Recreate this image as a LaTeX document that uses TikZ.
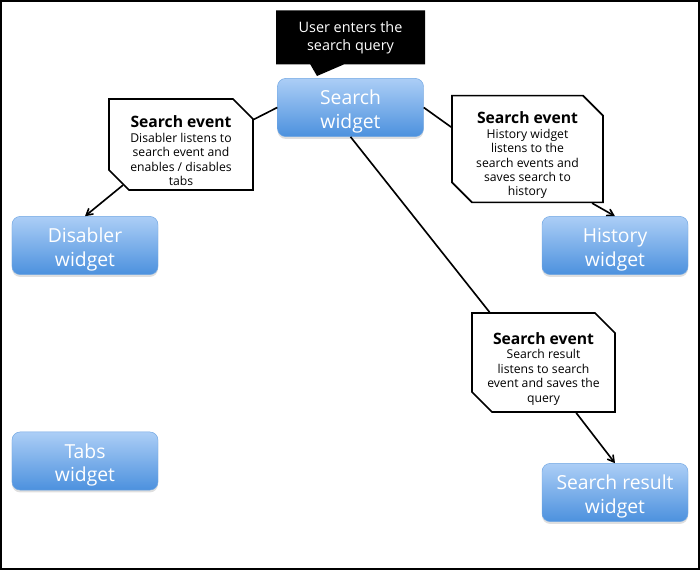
\documentclass[tikz,border=0pt]{standalone}
\usepackage{fontspec}
\setmainfont{Open Sans}
\usetikzlibrary{%
  arrows,%
  shapes.misc,%
  shapes.callouts,%
  shadows%
}
\definecolor{wtop}{RGB}{172,206,246}
\definecolor{wbot}{RGB}{76,145,222}
\definecolor{wline}{RGB}{112,166,226}
\tikzset{>=angle 60}
\tikzset{
  widget/.style={rectangle, rounded corners=7pt, draw=wline, top color=wtop,
    bottom color=wbot, text=white, align=center,
    font=\fontsize{16.5}{20}\selectfont, minimum width=4.38cm, minimum height=1.74cm,
    drop shadow={shadow xshift=0pt, shadow yshift=-2pt, opacity=0.25}},
  event/.style={chamfered rectangle, chamfered rectangle corners={north east,south west},
    chamfered rectangle sep=0.3cm, draw, line width=1.4pt, fill=white, align=center,
    inner xsep=0pt, inner ysep=-5.5pt, font=\fontsize{10.4}{12.3}\selectfont},
  link/.style={line width=1.4pt}
}
\newcommand{\lift}{\rule{0pt}{19pt}}
\newcommand{\evtitle}{{\fontsize{13.4}{15}\selectfont\bfseries\rule{0pt}{21pt}Search event}}

\begin{document}
\begin{tikzpicture}[x=0.03cm,y=-0.03cm]
    \useasboundingbox (0,0) rectangle (700,570);
    \draw[line width=1.5pt] (1,1) rectangle (699,569);
    \coordinate (qtip) at (317,76);
    \node[rectangle callout, fill=black, text=white, align=center,
      minimum width=4.47cm, minimum height=1.62cm,
      callout absolute pointer={(qtip)}, callout pointer width=1cm,
      font=\fontsize{12.3}{15.5}\selectfont] (query) at (350.5,37.5)
      {User enters the\\search query};
    \node[widget] (search) at (350.5,107.5) {\lift Search\\widget};
    \node[widget] (disabler) at (85,245.5) {\lift Disabler\\widget};
    \node[widget] (history) at (615,245.5) {\lift History\\widget};
    \node[widget] (tabs) at (85,461) {\lift Tabs\\widget};
    \node[widget] (result) at (615,492.5) {\lift Search result\\widget};
    \node[event, minimum width=4.32cm, minimum height=2.73cm] (disev) at (181,144.5)
      {\evtitle\\Disabler listens to\\search event and\\enables / disables\\tabs};
    \node[event, minimum width=4.53cm, minimum height=2.94cm] (histev) at (527.5,149)
      {\evtitle\\History widget\\listens to the\\search events and\\saves search to\\history};
    \node[event, minimum width=4.29cm, minimum height=2.97cm] (resev) at (543.5,362.5)
      {\evtitle\\Search result\\listens to search\\event and saves the\\query};
    \draw[link] (search.west) -- (disev.19);
    \draw[link,->] (disev.215) -- (disabler.north);
    \draw[link] (search.east) -- (histev.164);
    \draw[link,->] (histev.-40) -- (history.north);
    \draw[link] (search.south) -- (resev.137);
    \draw[link,->] (resev.-57) -- (result.north);
\end{tikzpicture}
\end{document}
